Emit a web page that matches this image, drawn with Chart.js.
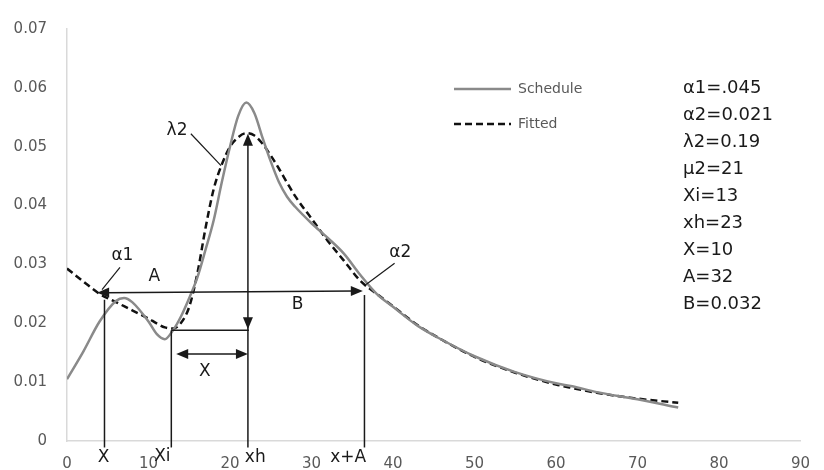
<!DOCTYPE html>
<html>
<head>
<meta charset="utf-8">
<script src="https://cdn.jsdelivr.net/npm/chart.js@4/dist/chart.umd.min.js"></script>
<style>
  html, body { margin: 0; padding: 0; background: #fff; }
  #wrap { width: 824px; height: 470px; }
</style>
</head>
<body>
<div id="wrap"><canvas id="chart" width="824" height="470"></canvas></div>
<script>
// ages (x) shared by both series
const ages = [0, 2, 4, 6, 7, 8, 10, 11, 12, 13, 14, 15, 16, 17, 18, 19, 20, 21, 22, 23,
  24, 25, 26, 27, 28, 30, 32, 34, 36, 38, 40, 43, 46, 50, 55, 60, 62, 65, 70, 75];

const schedule = [0.0105, 0.0152, 0.0203, 0.0238, 0.0243, 0.0236, 0.0203, 0.0182, 0.0173, 0.0188,
  0.0212, 0.0243, 0.0278, 0.0325, 0.0375, 0.0440, 0.0500, 0.0552, 0.0575, 0.0557,
  0.0515, 0.0475, 0.0440, 0.0415, 0.0398, 0.0370, 0.0345, 0.0318, 0.0282, 0.0250,
  0.0228, 0.0196, 0.0172, 0.0144, 0.0117, 0.0098, 0.0093, 0.0083, 0.0071, 0.0057];

const fitted = [0.0293, 0.0271, 0.0250, 0.0236, 0.0229, 0.0222, 0.0208, 0.0200, 0.0193, 0.0191,
  0.0201, 0.0228, 0.0285, 0.0362, 0.0428, 0.0470, 0.0500, 0.0516, 0.0523, 0.0519,
  0.0505, 0.0485, 0.0463, 0.0439, 0.0416, 0.0378, 0.0340, 0.0306, 0.0272, 0.0250,
  0.0229, 0.0197, 0.0172, 0.0143, 0.0116, 0.0096, 0.0090, 0.0082, 0.0072, 0.0065];

const seriesNames = ['Schedule', 'Fitted'];
const params = ['\u03b11=.045', '\u03b12=0.021', '\u03bb2=0.19', '\u03bc2=21', 'Xi=13', 'xh=23', 'X=10', 'A=32', 'B=0.032'];

// marker positions along the age axis
const xMark = 4.6, xiMark = 12.8, xhMark = 22.2, xaMark = 36.5;

const FONT = '"DejaVu Sans", sans-serif';

function arrowHead(ctx, x1, y1, x2, y2) {
  // filled triangle with tip at (x2, y2)
  const ang = Math.atan2(y2 - y1, x2 - x1);
  const len = 12, w = 5;
  ctx.beginPath();
  ctx.moveTo(x2, y2);
  ctx.lineTo(x2 - len * Math.cos(ang) + w * Math.sin(ang), y2 - len * Math.sin(ang) - w * Math.cos(ang));
  ctx.lineTo(x2 - len * Math.cos(ang) - w * Math.sin(ang), y2 - len * Math.sin(ang) + w * Math.cos(ang));
  ctx.closePath();
  ctx.fill();
}

function line(ctx, x1, y1, x2, y2) {
  ctx.beginPath();
  ctx.moveTo(x1, y1);
  ctx.lineTo(x2, y2);
  ctx.stroke();
}

const annotate = {
  id: 'annotate',
  afterDatasetsDraw(chart) {
    const ctx = chart.ctx;
    const xs = chart.scales.x, ys = chart.scales.y;
    const X = v => xs.getPixelForValue(v);
    const Y = v => ys.getPixelForValue(v);
    const bottom = Y(-0.0011);

    ctx.save();
    ctx.strokeStyle = '#1a1a1a';
    ctx.fillStyle = '#1a1a1a';
    ctx.lineWidth = 1.5;

    // drop lines
    line(ctx, X(xMark), Y(0.0240), X(xMark), bottom);
    line(ctx, X(xiMark), Y(0.0188), X(xiMark), bottom);
    line(ctx, X(xhMark), Y(0.0512), X(xhMark), bottom);
    line(ctx, X(xaMark), Y(0.0248), X(xaMark), bottom);

    // A-B double arrow
    const ax1 = X(3.7), ay1 = Y(0.0252), ax2 = X(36.3), ay2 = Y(0.0255);
    line(ctx, ax1 + 8, ay1, ax2 - 8, ay2);
    arrowHead(ctx, ax2, ay2, ax1, ay1);
    arrowHead(ctx, ax1, ay1, ax2, ay2);

    // horizontal Xi -> xh
    line(ctx, X(xiMark), Y(0.0188), X(xhMark) + 1, Y(0.0188));
    // xh arrows
    arrowHead(ctx, X(xhMark), Y(0.0450), X(xhMark), Y(0.0522));
    arrowHead(ctx, X(xhMark), Y(0.0250), X(xhMark), Y(0.0190));

    // X double arrow
    const xy = Y(0.0148);
    line(ctx, X(13.4) + 8, xy, X(xhMark) - 8, xy);
    arrowHead(ctx, X(xhMark), xy, X(13.4), xy);
    arrowHead(ctx, X(13.4), xy, X(xhMark), xy);

    // leader lines
    ctx.lineWidth = 1.2;
    line(ctx, X(6.5), Y(0.0295), X(4.3), Y(0.0257));
    line(ctx, X(40.2), Y(0.0302), X(36.7), Y(0.0266));
    line(ctx, X(15.2), Y(0.0522), X(18.9), Y(0.0468));

    // labels
    ctx.font = '17px ' + FONT;
    ctx.textAlign = 'center';
    ctx.textBaseline = 'middle';
    ctx.fillText('\u03b11', X(6.8), Y(0.0315));
    ctx.fillText('\u03b12', X(40.9), Y(0.0320));
    ctx.fillText('\u03bb2', X(13.5), Y(0.0527));
    ctx.fillText('A', X(10.7), Y(0.0280));
    ctx.fillText('B', X(28.3), Y(0.0232));
    ctx.fillText('X', X(16.9), Y(0.0118));
    ctx.fillText('X', X(4.5), Y(-0.0028));
    ctx.fillText('Xi', X(11.7), Y(-0.0027));
    ctx.fillText('xh', X(23.1), Y(-0.0028));
    ctx.fillText('x+A', X(34.5), Y(-0.0028));

    // parameter list
    ctx.textAlign = 'left';
    ctx.font = '18px ' + FONT;
    params.forEach((p, i) => ctx.fillText(p, 683, 88 + i * 27.1));

    // legend
    const ds = chart.data.datasets;
    ds.forEach((d, i) => {
      const ly = 89 + i * 35;
      ctx.strokeStyle = d.borderColor;
      ctx.lineWidth = d.borderWidth;
      ctx.setLineDash(d.borderDash || []);
      line(ctx, 454, ly, 511, ly);
      ctx.setLineDash([]);
      ctx.fillStyle = '#595959';
      ctx.font = '14px ' + FONT;
      ctx.fillText(d.label, 518, ly);
    });
    ctx.restore();
  }
};

const ctx = document.getElementById('chart').getContext('2d');
new Chart(ctx, {
  type: 'line',
  data: {
    datasets: [{
      label: seriesNames[0],
      data: ages.map((a, i) => ({ x: a, y: schedule[i] })),
      borderColor: '#8a8a8a',
      borderWidth: 2.5,
      pointRadius: 0,
      cubicInterpolationMode: 'monotone'
    }, {
      label: seriesNames[1],
      data: ages.map((a, i) => ({ x: a, y: fitted[i] })),
      borderColor: '#111111',
      borderWidth: 2.5,
      borderDash: [7, 4],
      pointRadius: 0,
      cubicInterpolationMode: 'monotone'
    }]
  },
  options: {
    responsive: false,
    animation: false,
    layout: { padding: { top: 21, right: 18, left: 0, bottom: 0 } },
    plugins: { legend: { display: false }, tooltip: { enabled: false } },
    scales: {
      x: {
        type: 'linear',
        min: 0,
        max: 90,
        ticks: { stepSize: 10, color: '#595959', font: { family: FONT, size: 15 }, padding: 14 },
        grid: { display: false, drawTicks: false },
        border: { color: '#d9d9d9', width: 1.5 },
        afterFit: s => { s.height = 29; }
      },
      y: {
        min: 0,
        max: 0.07,
        ticks: {
          stepSize: 0.01,
          color: '#595959',
          font: { family: FONT, size: 15 },
          padding: 20,
          callback: v => (Math.abs(v) < 1e-9 ? '0' : v.toFixed(2))
        },
        grid: { display: false, drawTicks: false },
        border: { color: '#d9d9d9', width: 1.5 },
        afterFit: s => { s.width = 67; }
      }
    }
  },
  plugins: [annotate]
});
</script>
</body>
</html>
